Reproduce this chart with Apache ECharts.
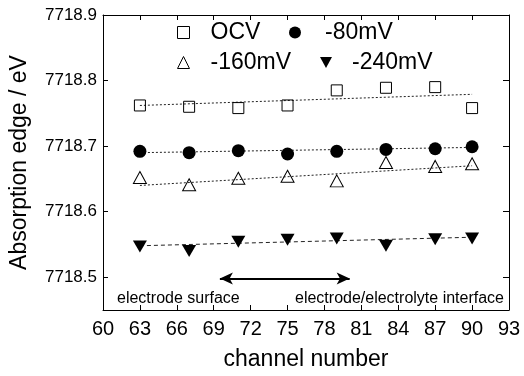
<!DOCTYPE html>
<html>
<head>
<meta charset="utf-8">
<script src="https://cdn.jsdelivr.net/npm/echarts@6/dist/echarts.min.js"></script>
<style>
  html, body { margin: 0; padding: 0; background: #fff; }
  #main { width: 524px; height: 376px; }
</style>
</head>
<body>
<div id="main"></div>
<script>
var FONT = 'Liberation Sans, Arial, sans-serif';

// channel numbers of the measured points
var channels = [63, 67, 71, 75, 79, 83, 87, 90];
var ocv   = [7718.762, 7718.760, 7718.758, 7718.762, 7718.785, 7718.789, 7718.790, 7718.758];
var mv80  = [7718.692, 7718.690, 7718.693, 7718.688, 7718.692, 7718.695, 7718.696, 7718.699];
var mv160 = [7718.652, 7718.641, 7718.651, 7718.654, 7718.647, 7718.675, 7718.669, 7718.673];
var mv240 = [7718.547, 7718.540, 7718.554, 7718.557, 7718.559, 7718.548, 7718.558, 7718.559];

// linear fit end points
var fitX     = [63, 90];
var ocvFit   = [7718.762, 7718.779];
var mv80Fit  = [7718.690, 7718.698];
var mv160Fit = [7718.640, 7718.670];
var mv240Fit = [7718.548, 7718.561];

var yTicks = [7718.5, 7718.6, 7718.7, 7718.8, 7718.9];
var arrowFrom = [69.5, 7718.498];
var arrowTo   = [80.05, 7718.498];

function pairs(xs, ys) {
  return xs.map(function (x, i) { return [x, ys[i]]; });
}

var downTri = 'path://M0,0 L10,0 L5,9 Z';

var myChart = echarts.init(document.getElementById('main'));

function scatter(name, data, symbol, size, filled) {
  return {
    name: name, type: 'scatter', data: pairs(channels, data),
    symbol: symbol, symbolSize: size, z: 3,
    itemStyle: filled ? { color: '#000', opacity: 1 }
      : { color: 'rgba(0,0,0,0)', borderColor: '#000', borderWidth: 1, opacity: 1 }
  };
}
function fit(name, ys, dash) {
  return {
    name: name, type: 'line', data: pairs(fitX, ys), showSymbol: false, symbol: 'none', z: 2,
    lineStyle: { color: '#222', width: 1, type: dash }
  };
}
function legendAt(name, left, top, icon, pad) {
  return {
    data: [{ name: name, icon: icon }], left: left, top: top,
    itemWidth: 12, itemHeight: 12, selectedMode: false,
    itemStyle: { borderWidth: 1 },
    textStyle: { fontFamily: FONT, fontSize: 23, color: '#000', padding: [0, 0, 0, pad] }
  };
}

var option = {
  animation: false,
  backgroundColor: '#fff',
  grid: { left: 101, top: 15, right: 15, bottom: 61 },
  legend: [
    legendAt('OCV', 172, 16, 'rect', 16),
    legendAt('-80mV', 284, 16, 'circle', 19),
    legendAt('-160mV', 172, 46, 'triangle', 16),
    legendAt('-240mV', 315, 46, downTri, 15)
  ],
  xAxis: [{
    type: 'value', min: 60, max: 93, interval: 3, position: 'bottom',
    name: 'channel number', nameLocation: 'middle', nameGap: 38,
    nameTextStyle: { fontFamily: FONT, fontSize: 23, color: '#000' },
    axisLine: { onZero: false, lineStyle: { color: '#000', width: 1 } },
    axisTick: { inside: true, length: 5, lineStyle: { color: '#000' } },
    axisLabel: { fontFamily: FONT, fontSize: 20, color: '#000', margin: 9 },
    splitLine: { show: false }
  }, {
    type: 'value', min: 60, max: 93, interval: 3, position: 'top',
    axisLine: { onZero: false, lineStyle: { color: '#000', width: 1 } },
    axisTick: { inside: true, length: 5, lineStyle: { color: '#000' } },
    axisLabel: { show: false }, splitLine: { show: false }
  }],
  yAxis: [{
    type: 'value', min: 7718.45, max: 7718.9, position: 'left',
    name: 'Absorption edge / eV', nameLocation: 'middle', nameGap: 72,
    nameTextStyle: { fontFamily: FONT, fontSize: 23, color: '#000' },
    axisLine: { show: true, onZero: false, lineStyle: { color: '#000', width: 1 } },
    axisTick: { show: true, inside: true, length: 5, customValues: yTicks, lineStyle: { color: '#000' } },
    axisLabel: { fontFamily: FONT, fontSize: 17, color: '#000', margin: 6, customValues: yTicks,
      formatter: function (v) { return v.toFixed(1); } },
    splitLine: { show: false }
  }, {
    type: 'value', min: 7718.45, max: 7718.9, position: 'right',
    axisLine: { show: true, onZero: false, lineStyle: { color: '#000', width: 1 } },
    axisTick: { show: true, inside: true, length: 6, customValues: yTicks, lineStyle: { color: '#000' } },
    axisLabel: { show: false }, splitLine: { show: false }
  }],
  graphic: [
    { type: 'text', left: 117, top: 291, silent: true,
      style: { text: 'electrode surface', font: '16px ' + FONT, fill: '#000' } },
    { type: 'text', right: 20, top: 291, silent: true,
      style: { text: 'electrode/electrolyte interface', font: '16px ' + FONT, fill: '#000' } }
  ],
  series: [
    scatter('OCV', ocv, 'rect', 11, false),
    scatter('-80mV', mv80, 'circle', 13, true),
    scatter('-160mV', mv160, 'triangle', [13, 12], false),
    scatter('-240mV', mv240, downTri, [14, 12], true),
    fit('OCV fit', ocvFit, [2, 2]),
    fit('-80mV fit', mv80Fit, [2, 2]),
    fit('-160mV fit', mv160Fit, [2, 2]),
    fit('-240mV fit', mv240Fit, [4, 3]),
    {
      name: 'arrow', type: 'line', data: [], silent: true,
      markLine: {
        silent: true, symbol: ['arrow', 'arrow'], symbolSize: [9, 13],
        label: { show: false },
        lineStyle: { color: '#000', width: 2, type: 'solid' },
        data: [[{ coord: arrowFrom }, { coord: arrowTo }]]
      }
    }
  ]
};

myChart.setOption(option);
window.onresize = myChart.resize;
</script>
</body>
</html>
